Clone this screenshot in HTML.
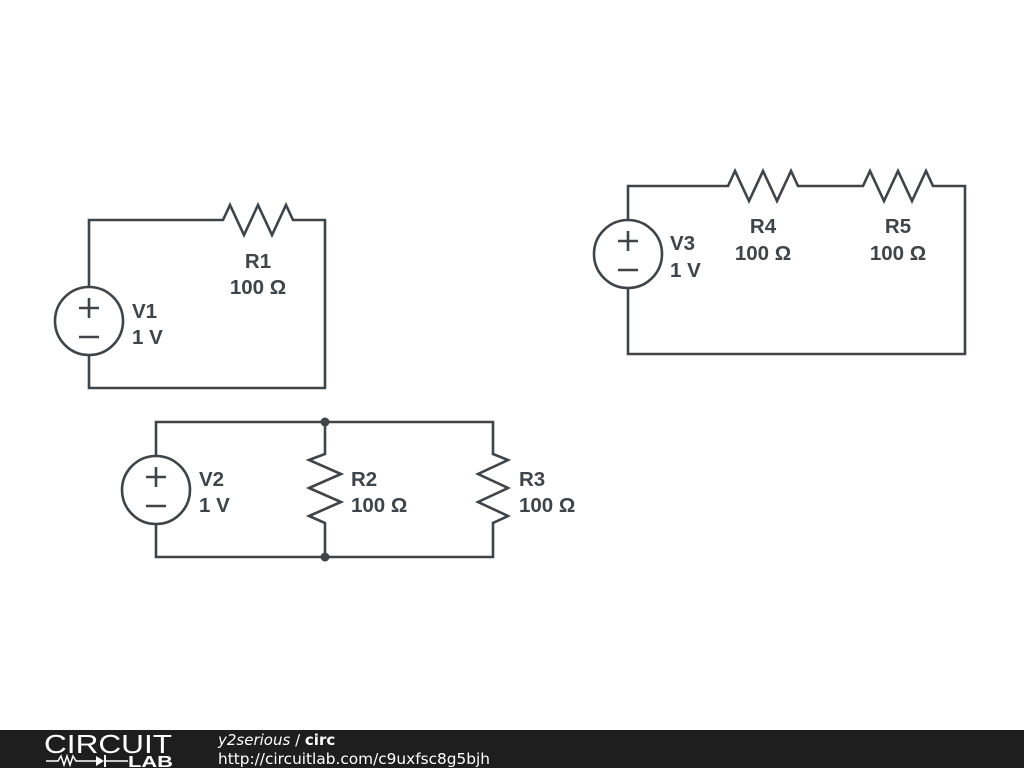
<!DOCTYPE html>
<html><head><meta charset="utf-8"><style>
html,body{margin:0;padding:0;background:#fff;width:1024px;height:768px;overflow:hidden}
svg{display:block}
text{font-family:"Liberation Sans","DejaVu Sans",sans-serif}
</style></head><body>
<svg width="1024" height="768" viewBox="0 0 1024 768">
<g stroke="#3f4448" stroke-width="2.6" fill="none" stroke-linejoin="miter">
<polyline points="89,287 89,220 220,220 223,220 230,205 244,235 258,205 272,235 286,205 293,220 325,220 325,388 89,388 89,355"/>
<circle cx="89" cy="321" r="34"/>
<line x1="79" y1="308" x2="99" y2="308"/><line x1="89" y1="298" x2="89" y2="318"/>
<line x1="79" y1="337" x2="99" y2="337"/>
<polyline points="628,220 628,186 725,186 728,186 735,171 749,201 763,171 777,201 791,171 798,186 860,186 863,186 870,171 884,201 898,171 912,201 926,171 933,186 965,186 965,354 628,354 628,288"/>
<circle cx="628" cy="254" r="34"/>
<line x1="618" y1="241" x2="638" y2="241"/><line x1="628" y1="231" x2="628" y2="251"/>
<line x1="618" y1="270" x2="638" y2="270"/>
<polyline points="156,456 156,422 493,422 493,452 493,454 508,460 478,474 508,488 478,502 508,516 493,523 493,557 156,557 156,524"/>
<polyline points="325,422 325,452 325,454 309,460 341,474 309,488 341,502 309,516 325,523 325,557"/>
<circle cx="156" cy="490" r="34"/>
<line x1="146" y1="477" x2="166" y2="477"/><line x1="156" y1="467" x2="156" y2="487"/>
<line x1="146" y1="506" x2="166" y2="506"/>
</g>
<circle cx="325" cy="422" r="4.5" fill="#3f4448"/>
<circle cx="325" cy="557" r="4.5" fill="#3f4448"/>
<g fill="#3f4448" font-size="20.5" font-weight="bold">
<text x="258" y="268" text-anchor="middle">R1</text><text x="258" y="294" text-anchor="middle">100 Ω</text>
<text x="132" y="318">V1</text><text x="132" y="344">1 V</text>
<text x="670" y="250">V3</text><text x="670" y="277">1 V</text>
<text x="763" y="233" text-anchor="middle">R4</text><text x="763" y="260" text-anchor="middle">100 Ω</text>
<text x="898" y="233" text-anchor="middle">R5</text><text x="898" y="260" text-anchor="middle">100 Ω</text>
<text x="199" y="486">V2</text><text x="199" y="512">1 V</text>
<text x="351" y="486">R2</text><text x="351" y="512">100 Ω</text>
<text x="519" y="486">R3</text><text x="519" y="512">100 Ω</text>
</g>
<rect x="0" y="730" width="1024" height="38" fill="#1e1e1e"/>
<text x="44" y="753" fill="#fff" font-size="26" textLength="128" lengthAdjust="spacingAndGlyphs" style="font-weight:normal">CIRCUIT</text>
<polyline points="46,761 58,761 61,756 64,765 67,756 70,765 73,756 76,761 96,761" stroke="#fff" stroke-width="1.5" fill="none"/>
<polygon points="96,756 96,766 104,761" fill="#fff"/><line x1="105" y1="755" x2="105" y2="767" stroke="#fff" stroke-width="2"/>
<line x1="105" y1="761" x2="128" y2="761" stroke="#fff" stroke-width="1.5"/>
<text x="128" y="767" fill="#fff" font-size="16" font-weight="bold" textLength="45" lengthAdjust="spacingAndGlyphs">LAB</text>
<text x="218" y="745" fill="#fff" font-size="15" style="font-family:'DejaVu Sans',sans-serif"><tspan font-style="italic">y2serious</tspan> / <tspan font-weight="bold">circ</tspan></text>
<text x="218" y="764" fill="#fff" font-size="15" style="font-family:'DejaVu Sans',sans-serif" textLength="272" lengthAdjust="spacingAndGlyphs">http://circuitlab.com/c9uxfsc8g5bjh</text>
</svg>
</body></html>
